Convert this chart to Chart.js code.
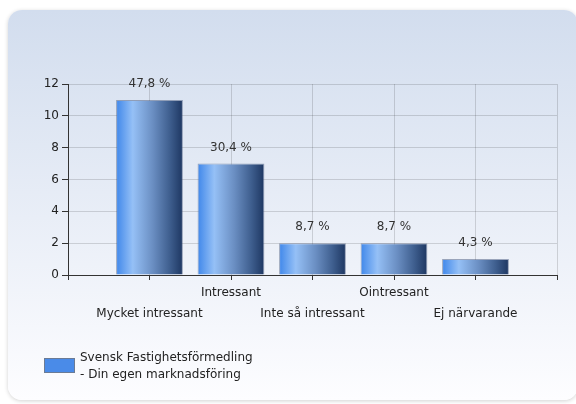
<!DOCTYPE html>
<html>
<head>
<meta charset="utf-8">
<script src="https://cdn.jsdelivr.net/npm/chart.js@4"></script>
<style>
  body { margin: 0; background: #fff; }
  #wrap { position: relative; width: 576px; height: 404px; overflow: hidden; }
  #panel {
    position: absolute; left: 8px; top: 10px; width: 570px; height: 390px;
    border-radius: 14px;
    background: linear-gradient(#d2ddee, #fdfdff);
    box-shadow: 0 1px 4px rgba(0,0,0,0.18);
  }
  #chart { position: absolute; left: 0; top: 0; }
  #legend {
    position: absolute; left: 44px; top: 349px;
    font: 12px "DejaVu Sans", sans-serif; color: #222; line-height: 17px;
  }
  #legend .box {
    position: absolute; left: 0; top: 9px; width: 29px; height: 13px;
    background: #4a8be8; border: 1px solid #6b7b95;
  }
  #legend .txt { margin-left: 36px; }
</style>
</head>
<body>
<div id="wrap">
  <div id="panel"></div>
  <canvas id="chart" width="576" height="404"></canvas>
  <div id="legend"><div class="box"></div><div class="txt" id="legendText"></div></div>
</div>
<script>
var seriesName = "Svensk Fastighetsförmedling\n- Din egen marknadsföring";
var categories = ["Mycket intressant", "Intressant", "Inte så intressant", "Ointressant", "Ej närvarande"];
var counts = [11, 7, 2, 2, 1];
var pctLabels = ["47,8 %", "30,4 %", "8,7 %", "8,7 %", "4,3 %"];
var yTicks = [0, 2, 4, 6, 8, 10, 12];

document.getElementById("legendText").innerHTML = seriesName.split("\n").join("<br>");

// empty slot at each end, labels staggered on two rows
var labels = [""];
var values = [null];
categories.forEach(function (c, i) {
  labels.push(i % 2 === 0 ? ["", c] : [c]);
  values.push(counts[i]);
});
labels.push("");
values.push(null);

var barPct = 0.82;

function barFill(c) {
  var x = c.chart.scales.x;
  if (c.type !== "data" || !x) return "#4a8be8";
  var cx = x.getPixelForValue(c.dataIndex);
  var half = (x.getPixelForValue(1) - x.getPixelForValue(0)) * barPct / 2;
  if (!isFinite(cx) || !isFinite(half)) return "#4a8be8";
  var g = c.chart.ctx.createLinearGradient(cx - half, 0, cx + half, 0);
  g.addColorStop(0, "#3f87ea");
  g.addColorStop(0.25, "#95c0f6");
  g.addColorStop(0.55, "#6a8ec2");
  g.addColorStop(0.8, "#3f5f8f");
  g.addColorStop(1, "#1d3661");
  return g;
}

var valueLabels = {
  id: "valueLabels",
  afterDatasetsDraw: function (chart) {
    var ctx = chart.ctx;
    var meta = chart.getDatasetMeta(0);
    ctx.save();
    ctx.font = '12px "DejaVu Sans", sans-serif';
    ctx.fillStyle = "#333";
    ctx.textAlign = "center";
    ctx.textBaseline = "middle";
    meta.data.forEach(function (bar, i) {
      if (values[i] == null) return;
      ctx.fillText(pctLabels[i - 1], bar.x, bar.y - 16);
    });
    ctx.restore();
  }
};

new Chart("chart", {
  type: "bar",
  data: {
    labels: labels,
    datasets: [
      {
        label: seriesName,
        data: values,
        backgroundColor: barFill,
        borderColor: "rgba(50,70,110,0.45)",
        borderWidth: 1,
        barPercentage: barPct,
        categoryPercentage: 1,
      },
    ],
  },
  options: {
    responsive: false,
    animation: false,
    layout: { padding: { top: 84, right: 19, left: 0, bottom: 0 } },
    plugins: {
      legend: { display: false },
      tooltip: { enabled: false },
    },
    scales: {
      x: {
        offset: false,
        grid: { offset: false, color: "rgba(0,0,0,0.14)", tickColor: "#333", tickLength: 5 },
        border: { color: "#333" },
        ticks: {
          autoSkip: false,
          maxRotation: 0,
          padding: 2,
          color: "#222",
          font: { family: "DejaVu Sans", size: 12, lineHeight: 1.75 },
        },
        afterFit: function (s) { s.height = 129; },
      },
      y: {
        min: 0,
        max: 12,
        afterBuildTicks: function (s) { s.ticks = yTicks.map(function (v) { return { value: v }; }); },
        grid: { color: "rgba(0,0,0,0.14)", tickColor: "#333", tickLength: 6 },
        border: { color: "#333" },
        ticks: {
          padding: 3,
          color: "#222",
          font: { family: "DejaVu Sans", size: 12 },
        },
        afterFit: function (s) { s.width = 68; },
      },
    },
  },
  plugins: [valueLabels],
});
</script>
</body>
</html>
